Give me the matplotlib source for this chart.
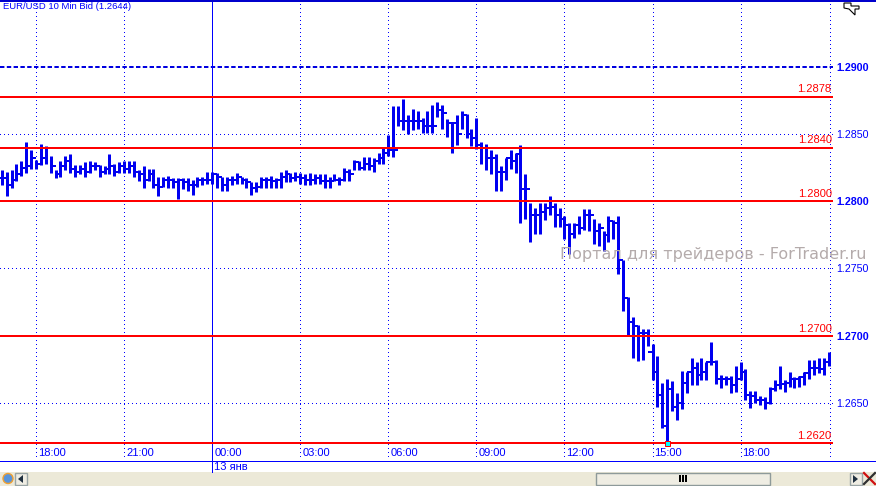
#!/usr/bin/env python3
import numpy as np
import matplotlib
matplotlib.use("Agg")
import matplotlib.pyplot as plt
from matplotlib.patches import Rectangle, Polygon, Circle

plt.rcParams['font.family'] = ['Liberation Sans', 'DejaVu Sans']

# ── data: 10 min bars, first bar is 7 bars before 18:00 ──
highs = [
    1.2823,1.2822,1.2823,1.2828,1.2830,1.2844,1.2838,1.2831,1.2843,1.2841,
    1.2834,1.2823,1.2830,1.2834,1.2835,1.2827,1.2827,1.2829,1.2830,1.2829,
    1.2827,1.2826,1.2835,1.2828,1.2829,1.2830,1.2830,1.2830,1.2823,1.2826,
    1.2824,1.2824,1.2818,1.2818,1.2819,1.2817,1.2817,1.2817,1.2817,1.2816,
    1.2818,1.2818,1.2822,1.2822,1.2821,1.2818,1.2818,1.2819,1.2821,1.2818,
    1.2817,1.2814,1.2814,1.2818,1.2818,1.2819,1.2817,1.2822,1.2823,1.2821,
    1.2822,
    1.2821,1.2820,1.2821,1.2820,1.2820,1.2820,1.2818,1.2820,1.2818,1.2825,
    1.2824,1.2831,1.2830,1.2833,1.2833,1.2832,1.2836,1.2840,1.2849,1.2871,
    1.2871,1.2876,1.2864,1.2869,1.2867,1.2862,1.2867,1.2872,1.2874,1.2872,
    1.2861,1.2858,1.2864,1.2867,1.2865,1.2854,1.2862,1.2844,1.2843,1.2838,
    1.2835,1.2826,1.2832,1.2838,1.2836,1.2842,1.2820,1.2799,1.2795,1.2799,
    1.2799,1.2804,1.2799,1.2795,1.2789,1.2784,1.2784,1.2789,
    1.2794,1.2794,1.2787,1.2784,1.2778,1.2789,1.2786,1.2789,
    1.2756,1.2729,1.2714,1.2708,1.2705,1.2705,1.2694,1.2685,1.2665,1.2668,
    1.2666,1.2657,1.2674,1.2673,1.2683,1.2680,1.2683,1.2680,1.2695,1.2682,
    1.2671,1.2670,1.2670,1.2677,1.2680,1.2675,1.2659,1.2659,1.2655,1.2654,
    1.2662,1.2667,1.2677,1.2667,1.2673,1.2669,1.2670,1.2673,1.2682,1.2682,
    1.2683,1.2683,1.2688,
]
lows = [
    1.2812,1.2804,1.2810,1.2815,1.2819,1.2821,1.2824,1.2824,1.2827,1.2828,
    1.2821,1.2817,1.2818,1.2823,1.2821,1.2818,1.2820,1.2818,1.2821,1.2823,
    1.2818,1.2820,1.2820,1.2819,1.2821,1.2821,1.2821,1.2818,1.2815,1.2810,
    1.2815,1.2810,1.2804,1.2811,1.2810,1.2810,1.2802,1.2809,1.2808,1.2805,
    1.2811,1.2812,1.2813,1.2813,1.2810,1.2808,1.2808,1.2812,1.2813,1.2813,
    1.2810,1.2805,1.2807,1.2810,1.2810,1.2810,1.2810,1.2810,1.2814,1.2814,
    1.2815,
    1.2813,1.2812,1.2812,1.2813,1.2813,1.2810,1.2810,1.2815,1.2812,1.2815,
    1.2815,1.2823,1.2823,1.2823,1.2823,1.2822,1.2828,1.2828,1.2834,1.2833,
    1.2856,1.2853,1.2850,1.2853,1.2854,1.2851,1.2851,1.2851,1.2863,1.2854,
    1.2848,1.2836,1.2842,1.2854,1.2847,1.2841,1.2839,1.2828,1.2823,1.2820,
    1.2808,1.2808,1.2816,1.2824,1.2821,1.2784,1.2787,1.2770,1.2776,1.2776,
    1.2786,1.2790,1.2781,1.2781,1.2772,1.2761,1.2773,1.2776,
    1.2779,1.2778,1.2768,1.2767,1.2763,1.2770,1.2772,1.2746,
    1.2718,1.2700,1.2683,1.2681,1.2682,1.2692,1.2667,1.2647,1.2631,1.2620,
    1.2644,1.2637,1.2645,1.2657,1.2663,1.2663,1.2667,1.2667,1.2678,1.2664,
    1.2661,1.2663,1.2657,1.2658,1.2667,1.2652,1.2646,1.2650,1.2648,1.2645,
    1.2649,1.2659,1.2660,1.2658,1.2662,1.2661,1.2662,1.2663,1.2668,1.2671,
    1.2672,1.2671,1.2677,
]
closes = [
    1.2817,1.2812,1.2816,1.2820,1.2825,1.2826,1.2832,1.2828,1.2832,1.2840,
    1.2826,1.2820,1.2826,1.2830,1.2824,1.2822,1.2824,1.2822,1.2826,1.2826,
    1.2822,1.2824,1.2826,1.2822,1.2826,1.2824,1.2826,1.2822,1.2820,1.2816,
    1.2820,1.2812,1.2811,1.2816,1.2816,1.2814,1.2816,1.2814,1.2812,1.2812,
    1.2816,1.2816,1.2816,1.2820,1.2818,1.2812,1.2816,1.2816,1.2818,1.2816,
    1.2814,1.2810,1.2811,1.2816,1.2816,1.2815,1.2816,1.2818,1.2820,1.2817,
    1.2818,
    1.2817,1.2816,1.2816,1.2817,1.2815,1.2815,1.2815,1.2816,1.2816,1.2822,
    1.2820,1.2829,1.2825,1.2828,1.2826,1.2830,1.2832,1.2836,1.2838,1.2838,
    1.2860,1.2860,1.2860,1.2860,1.2860,1.2856,1.2856,1.2856,1.2868,1.2866,
    1.2858,1.2858,1.2850,1.2864,1.2850,1.2847,1.2842,1.2840,1.2832,1.2832,
    1.2822,1.2822,1.2832,1.2830,1.2835,1.2809,1.2809,1.2790,1.2790,1.2792,
    1.2795,1.2796,1.2790,1.2787,1.2782,1.2776,1.2782,1.2780,
    1.2790,1.2790,1.2778,1.2780,1.2775,1.2785,1.2784,1.2756,
    1.2728,1.2710,1.2707,1.2702,1.2702,1.2688,1.2673,1.2656,1.2633,1.2660,
    1.2647,1.2650,1.2665,1.2673,1.2676,1.2671,1.2673,1.2680,1.2680,1.2668,
    1.2668,1.2668,1.2663,1.2668,1.2673,1.2656,1.2655,1.2652,1.2652,1.2650,
    1.2660,1.2663,1.2664,1.2665,1.2668,1.2668,1.2669,1.2672,1.2676,1.2676,
    1.2675,1.2680,1.2679,
]
first_bar = -7

red_levels = [1.2878, 1.2840, 1.2800, 1.2700, 1.2620]
red_labels = ["1.2878", "1.2840", "1.2800", "1.2700", "1.2620"]
price_ticks = [1.2850, 1.2800, 1.2750, 1.2700, 1.2650]
price_labels = ["1.2850", "1.2800", "1.2750", "1.2700", "1.2650"]
bold_prices = ["1.2900", "1.2800", "1.2700"]
dashed_level = 1.2900
time_ticks = [0, 18, 36, 54, 72, 90, 108, 126, 144]
time_labels = ["18:00", "21:00", "00:00", "03:00", "06:00", "09:00", "12:00", "15:00", "18:00"]
day_tick = 36

BLUE = '#0000FF'
RED = '#FF0000'
W, H = 876, 486
AXIS_R, AXIS_B = 833, 460

fig = plt.figure(figsize=(W / 100, H / 100), dpi=100, facecolor='white')
ax = fig.add_axes([0, 1 - AXIS_B / H, AXIS_R / W, AXIS_B / H])
ax.set_xlim(-36 / 4.893, (AXIS_R - 36) / 4.893)
ax.set_ylim(1.29 - (AXIS_B - 67) / 13430, 1.29 + 67 / 13430)
ax.set_xticks([])
ax.set_yticks([])
for s in ax.spines.values():
    s.set_visible(False)

# ── grid ──
grid = dict(color=BLUE, lw=0.72, ls=(0, (1, 3)), antialiased=False, zorder=1)
for t in time_ticks:
    if t != day_tick:
        ax.axvline(t, **grid)
for p in price_ticks:
    ax.axhline(p, **grid)
ax.axvline(162.3, **grid)
ax.axvline(162.95, **grid)
ax.axhline(dashed_level, color='#0000E0', lw=1.44, ls=(0, (2.2, 1.2)), zorder=1)
ax.axvline(day_tick, color=BLUE, lw=0.72, antialiased=False, zorder=2)

# ── bars ──
xs = np.arange(len(highs)) + first_bar
closes_arr = np.array(closes)
opens_arr = np.r_[closes_arr[0], closes_arr[:-1]]
ax.vlines(xs, lows, highs, colors='#0000F0', lw=2.16, zorder=3)
ax.hlines(closes_arr, xs, xs + 0.5, colors='#0000F0', lw=1.44, zorder=3)
ax.hlines(opens_arr, xs - 0.5, xs, colors='#0000F0', lw=1.44, zorder=3)

# ── red levels ──
for lvl, lab in zip(red_levels, red_labels):
    ax.axhline(lvl, color=RED, lw=1.44, zorder=4)
    ax.annotate(lab, (1, lvl), xycoords=('axes fraction', 'data'), xytext=(-1, 1.5),
                textcoords='offset points', ha='right', va='bottom', color=RED,
                fontsize=8, zorder=5)

imin = int(np.argmin(lows))
ax.plot(xs[imin], lows[imin], marker='s', ms=3.6, mfc='#00FFFF', mec=RED, mew=0.72, zorder=6)

# ── axis text ──
for p, lab in zip([dashed_level] + price_ticks, ["1.2900"] + price_labels):
    fig.text(836 / W, 1 - (68 + (1.29 - p) * 13430) / H, lab, color=BLUE, fontsize=7.7,
             va='center', ha='left', fontweight='bold' if lab in bold_prices else 'normal')
for t, lab in zip(time_ticks, time_labels):
    px = 36 + t * 4.893
    fig.text((px + 2) / W, 1 - 453 / H, lab, color=BLUE, fontsize=8, va='center', ha='left')
fig.text((36 + day_tick * 4.893 + 2) / W, 1 - 467 / H, "13 янв", color=BLUE, fontsize=8,
         va='center', ha='left')
fig.text(3 / W, 1 - 6.5 / H, "EUR/USD 10 Min Bid (1.2644)", color=BLUE, fontsize=6.8, va='center',
         ha='left', zorder=8)
fig.text(560 / W, 1 - 254 / H, "Портал для трейдеров - ForTrader.ru", color='#B4ABAB', fontsize=11.5,
         family=['DejaVu Sans'], va='center', ha='left', zorder=9)

# ── window chrome in pixels ──
top = fig.add_axes([0, 0, 1, 1], facecolor='none', zorder=5)
top.set_xlim(0, W)
top.set_ylim(H, 0)
top.axis('off')
top.add_patch(Rectangle((0, 0), W, 2, fc='#0000CC', ec='none'))
top.plot([0, W], [AXIS_B + 0.5] * 2, color=BLUE, lw=0.72, antialiased=False)
px_day = 36 + day_tick * 4.893
top.plot([px_day] * 2, [AXIS_B, 472], color=BLUE, lw=0.72, antialiased=False)
top.add_patch(Rectangle((0, 472), W, 14, fc='#ECE9D8', ec='none'))
top.add_patch(Rectangle((595.5, 472.5), 174, 12, fc='#EFEDE3', ec='#8E9A9A', lw=1))
for dx in (679, 682, 685):
    top.add_patch(Rectangle((dx - 0.5, 475), 2, 7, fc='black', ec='none'))
top.add_patch(Rectangle((14.5, 472.5), 12, 12.5, fc='#EFEDE3', ec='#9AA5A5', lw=1))
top.add_patch(Polygon([[23, 475], [23, 483], [18, 479]], fc='#203040', ec='none'))
top.add_patch(Rectangle((849.5, 472.5), 12, 12.5, fc='#EFEDE3', ec='#9AA5A5', lw=1))
top.add_patch(Polygon([[853, 475], [853, 483], [858, 479]], fc='#203040', ec='none'))
top.add_patch(Circle((8, 478.5), 5, fc='#5A94D8', ec='#F0A030', lw=1))
top.plot([864, 875], [473, 484], color='#D01010', lw=1.6)
top.plot([864, 875], [484, 473], color='#303030', lw=1.6)
top.add_patch(Polygon([[844, 3], [851, 3], [851, 6], [859, 6], [859, 9], [855, 9], [855, 15],
                       [852, 12], [849, 9], [844, 8]], fc='white', ec='black', lw=0.8))

fig.savefig('out.png', dpi=100)
